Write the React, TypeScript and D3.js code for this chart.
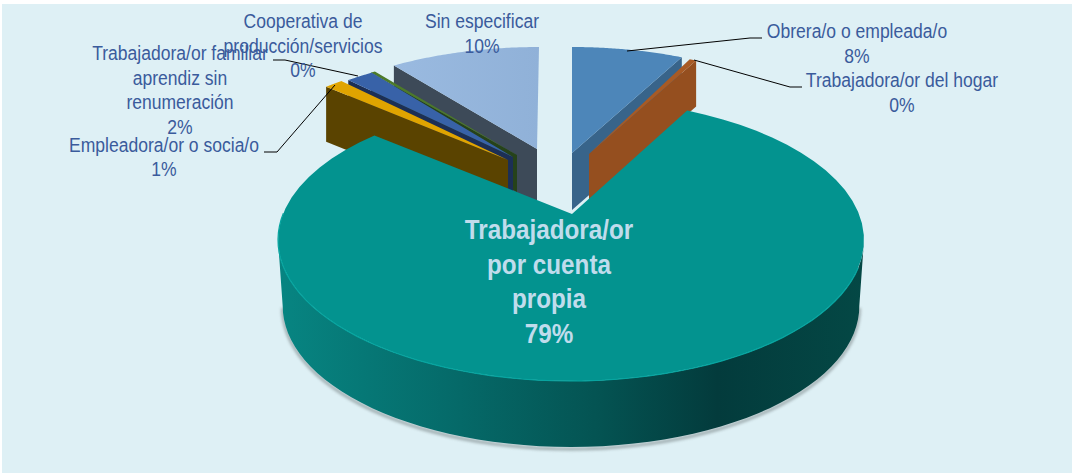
import React, { useMemo } from "react";
import * as d3 from "d3";

// ---- data ----
const categories = [
  "Obrera/o o empleada/o",
  "Trabajadora/or del hogar",
  "Trabajadora/or por cuenta propia",
  "Empleadora/or o socia/o",
  "Trabajadora/or familiar aprendiz sin renumeración",
  "Cooperativa de producción/servicios",
  "Sin especificar",
];
const shares = [7.5, 0.45, 78.7, 1.2, 1.8, 0.3, 10.05];
const percentLabels = ["8%", "0%", "79%", "1%", "2%", "0%", "10%"];

// ---- styling and layout ----
const topColors = ["#4d86b9", "#a85a24", "#03938f", "#e0a400", "#3862a8", "#4d7a2a", "#95b5dc"];
const wallColors = ["#38648a", "#954f1f", "#03605f", "#5a4300", "#1c2f55", "#26421a", "#3d4a58"];
// explosion offset of each ellipse, apex offset from the ellipse centre and wall depth
const explode = [
  { dx: 1, dy: -52, ax: 0, ay: -35, depth: 57 },
  { dx: 9, dy: -50, ax: 9, ay: -36, depth: 46 },
  { dx: 0, dy: 0, ax: 1, ay: -26, depth: 66 },
  { dx: -57, dy: -45, ax: -6, ay: -35, depth: 55 },
  { dx: -50, dy: -46, ax: -8, ay: -37, depth: 35 },
  { dx: -51, dy: -46, ax: -3, ay: -39, depth: 37 },
  { dx: -32, dy: -52, ax: -2, ay: -39, depth: 65 },
];
const drawOrder = [6, 5, 4, 3, 0, 1];
const MAIN = 2;
const W = 1074;
const H = 473;
const CX = 571;
const CY = 240;
const RX = 293;
const RY = 141;
const PERSPECTIVE = -0.192; // near side of the disc is stretched, back side squeezed
const MAIN_END_TRIM = -0.045;
const BASE_SCALE = 0.984; // the lower rim of the disc is slightly narrower

const labelLines: { x: number; y: number; lines: string[] }[] = [
  { x: 857, y: 38, lines: ["Obrera/o o empleada/o", "8%"] },
  { x: 902, y: 87, lines: ["Trabajadora/or del hogar", "0%"] },
  { x: 549, y: 239, lines: ["Trabajadora/or", "por cuenta", "propia", "79%"] },
  { x: 164, y: 152, lines: ["Empleadora/or o socia/o", "1%"] },
  { x: 180, y: 60, lines: ["Trabajadora/or familiar", "aprendiz sin", "renumeración", "2%"] },
  { x: 303, y: 28, lines: ["Cooperativa de", "producción/servicios", "0%"] },
  { x: 482, y: 28, lines: ["Sin especificar", "10%"] },
];
const lineSteps = [25, 24.5, 34.5, 24, 24.5, 24.5, 25];
const leaders: [number, number][][] = [
  [[627, 51], [750, 38], [762, 38]],
  [[694, 60], [790, 87], [802, 87]],
  [[335, 85], [277, 152], [264, 152]],
  [[358, 76], [285, 60], [273, 60]],
];

const FONT = "'Liberation Sans', Arial, sans-serif";

const screenAngle = (t: number) => t + PERSPECTIVE * Math.sin(t);
const rim = (t: number, dx = 0, dy = 0): [number, number] => {
  const a = screenAngle(t);
  return [CX + dx + RX * Math.sin(a), CY + dy - RY * Math.cos(a)];
};
const arcPoints = (t0: number, t1: number, dx: number, dy: number) =>
  d3.range(0, 61).map((i) => rim(t0 + ((t1 - t0) * i) / 60, dx, dy));
const line = d3.line();

export default function App() {
  const arcs = useMemo(
    () => d3.pie<number>().sort(null).startAngle(0).endAngle(2 * Math.PI)(shares),
    []
  );

  const sliceShapes = (i: number) => {
    const e = explode[i];
    const a = arcs[i];
    const apex: [number, number] = [CX + e.dx + e.ax, CY + e.dy + e.ay];
    const pts = arcPoints(a.startAngle, a.endAngle, e.dx, e.dy);
    const top = line([apex, ...pts])! + "Z";
    // side wall: the radial face that is visible to the viewer
    const outer = i < MAIN ? pts[pts.length - 1] : pts[0];
    const wall =
      line([
        apex,
        outer,
        [outer[0], outer[1] + e.depth],
        [apex[0], apex[1] + e.depth],
      ])! + "Z";
    return { top, wall };
  };

  const mainArc = arcs[MAIN];
  const mainPts = arcPoints(mainArc.startAngle, mainArc.endAngle + MAIN_END_TRIM, 0, 0);
  const mainApex: [number, number] = [CX + explode[MAIN].ax, CY + explode[MAIN].ay];
  const mainTop = line([mainApex, ...mainPts])! + "Z";
  const front = arcPoints(Math.PI * 0.56, Math.PI * 1.44, 0, 0);
  const depth = explode[MAIN].depth;
  const base = front.map(([x, y]) => [CX + (x - CX) * BASE_SCALE, y + depth] as [number, number]);
  const mainWall = line([...front, ...base.slice().reverse()])! + "Z";
  const rimEdge = line(arcPoints(Math.PI * 0.62, Math.PI * 1.5, 0, 0))!;
  const shadow = line(base.map(([x, y]) => [x, y + 2] as [number, number]))!;

  return (
    <svg
      width={W}
      height={H}
      viewBox={`0 0 ${W} ${H}`}
      style={{ position: "absolute", left: 0, top: 0, display: "block" }}
    >
      <defs>
        <linearGradient id="wallGrad" x1={278} x2={864} y1={0} y2={0} gradientUnits="userSpaceOnUse">
          <stop offset="0" stopColor="#078582" />
          <stop offset="0.3" stopColor="#056a69" />
          <stop offset="0.55" stopColor="#045352" />
          <stop offset="0.75" stopColor="#033b3c" />
          <stop offset="1" stopColor="#044845" />
        </linearGradient>
        <linearGradient id="sinGrad" x1={393} x2={540} y1={0} y2={0} gradientUnits="userSpaceOnUse">
          <stop offset="0" stopColor="#9abae0" />
          <stop offset="1" stopColor="#90b1d8" />
        </linearGradient>
        <filter id="soft" x="-10%" y="-10%" width="120%" height="120%">
          <feGaussianBlur stdDeviation="1.6" />
        </filter>
      </defs>
      <rect x={0} y={0} width={W} height={H} fill="#ffffff" />
      <rect x={2} y={4} width={W - 4} height={H - 4} fill="#def0f5" />

      {drawOrder.map((i) => {
        const s = sliceShapes(i);
        return (
          <g key={categories[i]}>
            <path d={s.wall} fill={wallColors[i]} />
            <path d={s.top} fill={i === 6 ? "url(#sinGrad)" : topColors[i]} />
          </g>
        );
      })}

      <path d={shadow} fill="none" stroke="#6f7a7c" strokeWidth={3} opacity={0.6} filter="url(#soft)" />
      <path d={mainWall} fill="url(#wallGrad)" />
      <path d={mainTop} fill={topColors[MAIN]} />
      <path d={rimEdge} fill="none" stroke="#07a5a0" strokeWidth={1.2} />

      {leaders.map((p, i) => (
        <path key={i} d={line(p)!} fill="none" stroke="#000000" strokeWidth={1} />
      ))}

      {labelLines.map((l, i) => (
        <g
          key={categories[i]}
          fontFamily={FONT}
          fontSize={i === MAIN ? 28 : 20}
          fontWeight={i === MAIN ? 700 : 400}
          fill={i === MAIN ? "#c0dcec" : "#3a5b9c"}
          textAnchor="middle"
        >
          {l.lines.map((t, k) => (
            <text
              key={k}
              transform={`translate(${l.x},${l.y + k * lineSteps[i]}) scale(${i === MAIN ? 0.866 : 0.877},1)`}
            >
              {k === l.lines.length - 1 ? percentLabels[i] : t}
            </text>
          ))}
        </g>
      ))}
    </svg>
  );
}
